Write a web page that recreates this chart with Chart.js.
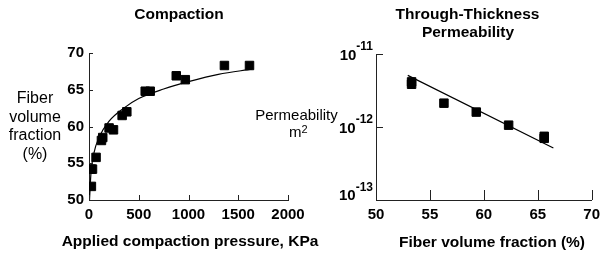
<!DOCTYPE html>
<html>
<head>
<meta charset="utf-8">
<script src="https://cdn.jsdelivr.net/npm/chart.js@4.4.1/dist/chart.umd.min.js"></script>
<style>
  html, body { margin: 0; padding: 0; background: #fff; }
  #wrap { position: relative; width: 606px; height: 258px; }
  #wrap canvas { position: absolute; left: 0; top: 0; }
</style>
</head>
<body>
<div id="wrap">
  <canvas id="chartCompaction" width="606" height="258"></canvas>
  <canvas id="chartPerm" width="606" height="258"></canvas>
</div>
<script>
// compaction: measured points
const pressure = [24, 22, 35, 71, 125, 138, 202, 246, 333, 380, 565, 615, 877, 968, 1361, 1613];
const volFrac = [51.85, 54.2, 54.2, 55.8, 58.1, 58.5, 59.8, 59.55, 61.5, 62.0, 64.8, 64.8, 66.9, 66.37, 68.3, 68.3];
// compaction: fitted curve
const fitPressure = [5, 20, 50, 100, 200, 350, 500, 750, 1000, 1300, 1640];
const fitVolFrac = [50.0, 53.7, 56.4, 58.5, 60.7, 62.5, 63.8, 65.1, 66.1, 67.1, 67.8];

// permeability: measured points
const fvf = [53.3, 53.3, 56.3, 59.3, 62.3, 65.6, 65.6];
const perm = [4.15e-12, 3.85e-12, 2.12e-12, 1.6e-12, 1.06e-12, 7.45e-13, 7.0e-13];
// permeability: fitted line
const fitFvf = [52.95, 66.45];
const fitPerm = [5.1e-12, 5.15e-13];

// tick labels
const pressureTicks = [0, 500, 1000, 1500, 2000];
const volTicks = [50, 55, 60, 65, 70];
const fvfTicks = [50, 55, 60, 65, 70];
const permExponents = [-13, -12, -11];

const FONT = '"Liberation Sans", Arial, Helvetica, sans-serif';
Chart.defaults.font.family = FONT;
Chart.defaults.color = "#000";

function toXY(xs, ys) {
  return xs.map(function (x, i) { return { x: x, y: ys[i] }; });
}

// free text (titles, axis names)
const textLayer = {
  id: "textLayer",
  afterDraw(chart, args, opts) {
    const ctx = chart.ctx;
    ctx.save();
    ctx.fillStyle = "#000";
    ctx.textBaseline = "alphabetic";
    (opts.items || []).forEach(function (t) {
      ctx.font = t.font;
      ctx.textAlign = t.align || "center";
      ctx.fillText(t.text, t.x, t.y);
    });
    ctx.restore();
  },
};

// short inward tick marks
const tickMarks = {
  id: "tickMarks",
  afterDraw(chart, args, opts) {
    const ctx = chart.ctx;
    const area = chart.chartArea;
    const xs = chart.scales.x;
    const ys = chart.scales.y;
    ctx.save();
    ctx.strokeStyle = "#222";
    ctx.lineWidth = 1;
    ctx.beginPath();
    xs.ticks.forEach(function (t) {
      const px = Math.round(xs.getPixelForValue(t.value)) + 0.5;
      ctx.moveTo(px, area.bottom);
      ctx.lineTo(px, area.bottom - opts.xLen);
    });
    ys.ticks.forEach(function (t) {
      const py = Math.round(ys.getPixelForValue(t.value)) + 0.5;
      ctx.moveTo(area.left, py);
      ctx.lineTo(area.left + opts.yLen, py);
    });
    ctx.stroke();
    ctx.restore();
  },
};

// 10^n labels on the log axis
const powerLabels = {
  id: "powerLabels",
  afterDraw(chart, args, opts) {
    if (!opts.enabled) return;
    const ctx = chart.ctx;
    const ys = chart.scales.y;
    const right = chart.chartArea.left - 3;
    ctx.save();
    ctx.fillStyle = "#000";
    ctx.textBaseline = "alphabetic";
    ys.ticks.forEach(function (t) {
      const py = ys.getPixelForValue(t.value);
      const exp = String(Math.round(Math.log10(t.value)));
      const base = t.value === ys.min ? py : py + 5.5;
      ctx.font = "bold 12px " + FONT;
      const w = ctx.measureText(exp).width;
      ctx.textAlign = "left";
      ctx.fillText(exp, right - w, base - 9.5);
      ctx.font = "bold 15px " + FONT;
      ctx.textAlign = "right";
      ctx.fillText("10", right - w, base);
    });
    ctx.restore();
  },
};

const tickFont = { size: 15, weight: "bold" };
const plainLabel = function (v) { return String(v); };
const noGrid = { display: false, drawTicks: false };
const axisBorder = { display: true, color: "#222", width: 1 };
const squares = {
  pointStyle: "rect",
  pointRadius: 6,
  pointHoverRadius: 6,
  backgroundColor: "#000",
  borderColor: "#000",
  borderWidth: 1,
  showLine: false,
};
const fitLine = {
  showLine: true,
  pointRadius: 0,
  borderColor: "#000",
  borderWidth: 1.2,
  fill: false,
};

new Chart(document.getElementById("chartCompaction"), {
  type: "scatter",
  data: {
    datasets: [
      Object.assign({ data: toXY(pressure, volFrac) }, squares),
      Object.assign({ data: toXY(fitPressure, fitVolFrac), cubicInterpolationMode: "monotone" }, fitLine),
    ],
  },
  options: {
    responsive: false,
    animation: false,
    events: [],
    layout: { padding: { left: 0, top: 53, right: 318, bottom: 0 } },
    plugins: {
      legend: { display: false },
      tooltip: { enabled: false },
      tickMarks: { xLen: 5, yLen: 4 },
      powerLabels: { enabled: false },
      textLayer: {
        items: [
          { text: "Compaction", x: 179, y: 18.5, font: "bold 15.5px " + FONT },
          { text: "Fiber", x: 35, y: 103, font: "16px " + FONT },
          { text: "volume", x: 35, y: 121.5, font: "16px " + FONT },
          { text: "fraction", x: 35, y: 140, font: "16px " + FONT },
          { text: "(%)", x: 35, y: 158.5, font: "16px " + FONT },
          { text: "Applied compaction pressure, KPa", x: 190, y: 246, font: "bold 15.5px " + FONT },
        ],
      },
    },
    scales: {
      x: {
        type: "linear", min: 0, max: 2000,
        afterBuildTicks: function (s) { s.ticks = pressureTicks.map(function (v) { return { value: v }; }); },
        ticks: { font: tickFont, color: "#000", padding: 6, maxRotation: 0, callback: plainLabel },
        grid: noGrid, border: axisBorder,
        afterFit: function (s) { s.height = 58; },
      },
      y: {
        type: "linear", min: 50, max: 70,
        afterBuildTicks: function (s) { s.ticks = volTicks.map(function (v) { return { value: v }; }); },
        ticks: { font: tickFont, color: "#000", padding: 5, callback: plainLabel },
        grid: noGrid, border: axisBorder,
        afterFit: function (s) { s.width = 89; },
      },
    },
  },
  plugins: [textLayer, tickMarks, powerLabels],
});

new Chart(document.getElementById("chartPerm"), {
  type: "scatter",
  data: {
    datasets: [
      Object.assign({ data: toXY(fvf, perm) }, squares),
      Object.assign({ data: toXY(fitFvf, fitPerm) }, fitLine),
    ],
  },
  options: {
    responsive: false,
    animation: false,
    events: [],
    layout: { padding: { left: 0, top: 54, right: 9, bottom: 0 } },
    plugins: {
      legend: { display: false },
      tooltip: { enabled: false },
      tickMarks: { xLen: 10, yLen: 7 },
      powerLabels: { enabled: true },
      textLayer: {
        items: [
          { text: "Through-Thickness", x: 467.5, y: 18.5, font: "bold 15.5px " + FONT },
          { text: "Permeability", x: 468, y: 36.5, font: "bold 15.5px " + FONT },
          { text: "Permeability", x: 296.5, y: 120, font: "15px " + FONT },
          { text: "m", x: 289, y: 137, font: "15px " + FONT, align: "left" },
          { text: "2", x: 301.5, y: 132.5, font: "11px " + FONT, align: "left" },
          { text: "Fiber volume fraction (%)", x: 492, y: 247, font: "bold 15.5px " + FONT },
        ],
      },
    },
    scales: {
      x: {
        type: "linear", min: 50, max: 70,
        afterBuildTicks: function (s) { s.ticks = fvfTicks.map(function (v) { return { value: v }; }); },
        ticks: { font: tickFont, color: "#000", padding: 6, maxRotation: 0, callback: plainLabel },
        grid: noGrid, border: axisBorder,
        afterFit: function (s) { s.height = 58; },
      },
      y: {
        type: "logarithmic", min: 1e-13, max: 1e-11,
        afterBuildTicks: function (s) { s.ticks = permExponents.map(function (e) { return { value: Math.pow(10, e) }; }); },
        ticks: { display: false },
        grid: noGrid, border: axisBorder,
        afterFit: function (s) { s.width = 376; },
      },
    },
  },
  plugins: [textLayer, tickMarks, powerLabels],
});
</script>
</body>
</html>
